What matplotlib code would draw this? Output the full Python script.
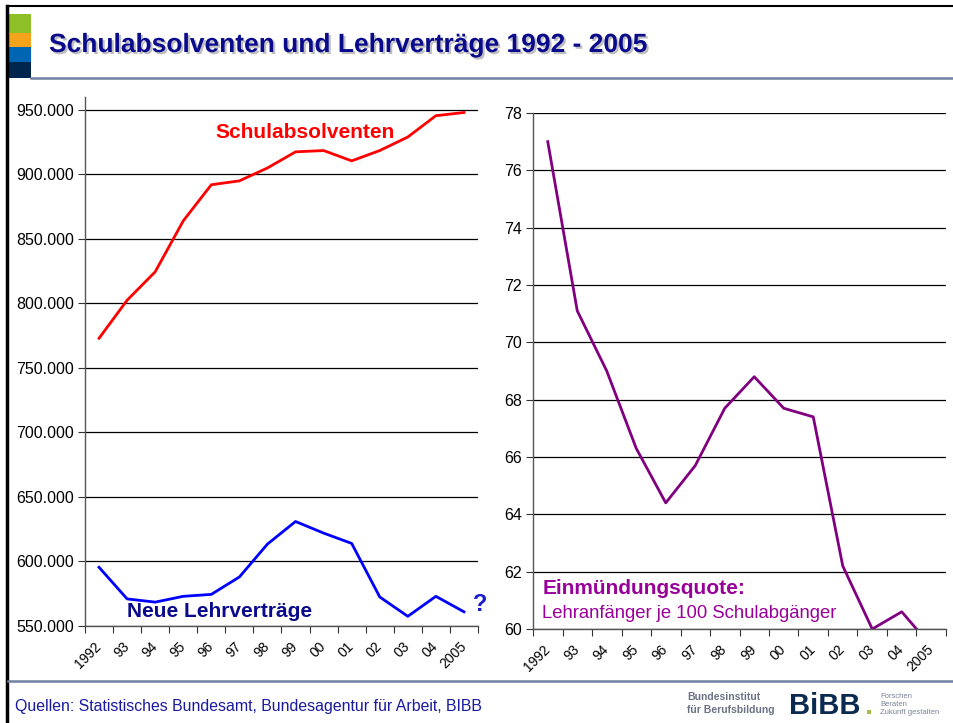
import matplotlib
matplotlib.use('Agg')
import matplotlib.pyplot as plt
from matplotlib.patches import Rectangle
from matplotlib.lines import Line2D
from matplotlib.transforms import ScaledTranslation
import matplotlib.patheffects as pe

plt.rcParams['font.family'] = ['Liberation Sans', 'DejaVu Sans']

# Daten
jahre = ['1992', '93', '94', '95', '96', '97', '98', '99', '00', '01', '02', '03', '04', '2005']
schulabsolventen = [773000, 802500, 824500, 864000, 892000, 895000, 905000, 917500, 918500,
                    910500, 918500, 929000, 945500, 948000]
lehrvertraege = [595500, 571000, 568500, 573000, 574500, 588000, 613500, 631000, 622000,
                 614000, 572500, 557500, 573000, 561000]
quote = [77.0, 71.1, 69.0, 66.3, 64.4, 65.7, 67.7, 68.8, 67.7, 67.4, 62.2, 60.0, 60.6, 59.4]

links_ticks = [550000, 600000, 650000, 700000, 750000, 800000, 850000, 900000, 950000]
rechts_ticks = [60, 62, 64, 66, 68, 70, 72, 74, 76, 78]

NAVY = '#0a0a8c'
PURPLE = '#990099'

W, H = 954, 723
fig = plt.figure(figsize=(W / 100, H / 100), dpi=100)


def fx(px):
    return px / W


def fy(py):
    return 1 - py / H


# Rahmen, Logo-Balken, Trennlinien
fig.add_artist(Line2D([fx(7), fx(7)], [fy(6), 0], color='black', lw=2.5))
fig.add_artist(Line2D([fx(7), 1], [fy(6), fy(6)], color='black', lw=1.5))
for y0, y1, c in [(14, 33, '#8cc026'), (33, 47, '#f5a31a'), (47, 62, '#0066b3'), (62, 78, '#00264d')]:
    fig.add_artist(Rectangle((fx(8), fy(y1)), fx(31) - fx(8), fy(y0) - fy(y1),
                             color=c, lw=0, transform=fig.transFigure))
fig.add_artist(Line2D([fx(31), 1], [fy(78), fy(78)], color='#7080a0', lw=1.8))
fig.add_artist(Line2D([fx(8), 1], [fy(681), fy(681)], color='#7080a0', lw=1.8))

# Titel
fig.text(fx(49), fy(45), 'Schulabsolventen und Lehrverträge 1992 - 2005', fontsize=19,
         fontweight='bold', color=NAVY, va='center', ha='left',
         path_effects=[pe.withSimplePatchShadow(offset=(1.5, -1.5), shadow_rgbFace='#b0b0b0', alpha=0.8)])


def style_axes(ax, n):
    ax.set_xlim(-0.5, n - 0.5)
    ax.set_xticks([i - 0.5 for i in range(n + 1)])
    ax.set_xticklabels([])
    ax.set_xticks(range(n), minor=True)
    ax.set_xticklabels(jahre, minor=True, rotation=45, ha='right', va='center',
                       rotation_mode='anchor', fontsize=10)
    shift = ScaledTranslation(-4 / 100, 0, fig.dpi_scale_trans)
    for lbl in ax.get_xticklabels(minor=True):
        lbl.set_transform(lbl.get_transform() + shift)
    ax.tick_params(axis='x', which='minor', length=0, pad=13)
    ax.tick_params(axis='x', which='major', length=5, direction='out', color='#333333')
    ax.tick_params(axis='y', length=5, direction='out', color='#333333', labelsize=11.5, pad=3)
    for s in ['top', 'right']:
        ax.spines[s].set_visible(False)
    for s in ['left', 'bottom']:
        ax.spines[s].set_color('#555555')
        ax.spines[s].set_linewidth(1)
    ax.grid(axis='y', color='black', lw=0.9)
    ax.set_axisbelow(True)


# Linkes Diagramm
ax1 = fig.add_axes([fx(85), fy(626), fx(478) - fx(85), fy(97) - fy(626)])
x = range(len(jahre))
ax1.plot(x, schulabsolventen, color='#ff0000', lw=2)
ax1.plot(x, lehrvertraege, color='#0000ff', lw=2)
ax1.set_ylim(550000, 960000)
ax1.set_yticks(links_ticks)
ax1.set_yticklabels([f'{v:,}'.replace(',', '.') for v in links_ticks])
style_axes(ax1, len(jahre))
ax1.text(0.331, 0.932, 'Schulabsolventen', transform=ax1.transAxes, color='#ff0000',
         fontsize=15, fontweight='bold', va='center', ha='left')
ax1.text(0.107, 0.028, 'Neue Lehrverträge', transform=ax1.transAxes, color=NAVY,
         fontsize=15, fontweight='bold', va='center', ha='left')
ax1.text(1.005, 0.04, '?', transform=ax1.transAxes, color='#1a1ad0',
         fontsize=17, fontweight='bold', va='center', ha='center', clip_on=False)

# Rechtes Diagramm
ax2 = fig.add_axes([fx(533), fy(629), fx(946) - fx(533), fy(113) - fy(629)])
ax2.plot(x, quote, color='#800080', lw=2)
ax2.set_ylim(60, 78)
ax2.set_yticks(rechts_ticks)
style_axes(ax2, len(jahre))
ax2.text(fx(543), fy(588), 'Einmündungsquote:', transform=fig.transFigure, color=PURPLE,
         fontsize=15, fontweight='bold', va='center', ha='left')
ax2.text(fx(542), fy(613), 'Lehranfänger je 100 Schulabgänger', transform=fig.transFigure,
         color=PURPLE, fontsize=13.3, va='center', ha='left')

# Fußzeile
fig.text(fx(15), fy(706), 'Quellen: Statistisches Bundesamt, Bundesagentur für Arbeit, BIBB',
         fontsize=11.4, color='#1a1aa0', va='center', ha='left')
fig.text(fx(687), fy(697), 'Bundesinstitut', fontsize=7.5, fontweight='bold',
         color='#6a7284', va='center', ha='left')
fig.text(fx(687), fy(710), 'für Berufsbildung', fontsize=7.5, fontweight='bold',
         color='#6a7284', va='center', ha='left')
fig.text(fx(789), fy(706), 'BiBB', fontsize=21, fontweight='bold', color='#0a2a50',
         va='center', ha='left')
fig.add_artist(Rectangle((fx(867), fy(714)), fx(4), fx(4) * W / H, color='#a8c040', lw=0,
                         transform=fig.transFigure))
fig.text(fx(880), fy(696), 'Forschen', fontsize=5.5, color='#7a8294', va='center', ha='left')
fig.text(fx(880), fy(704), 'Beraten', fontsize=5.5, color='#7a8294', va='center', ha='left')
fig.text(fx(880), fy(712), 'Zukunft gestalten', fontsize=5.5, color='#7a8294', va='center', ha='left')

fig.savefig('out.png', dpi=100)
